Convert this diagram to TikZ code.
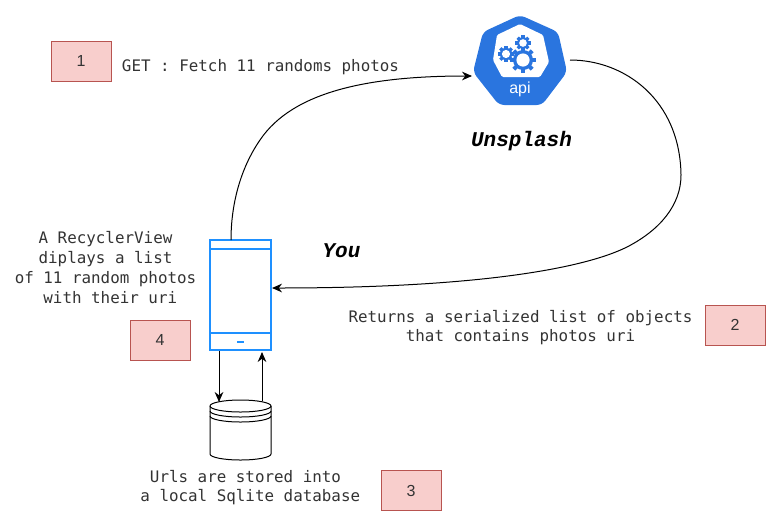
\documentclass[tikz,border=0pt]{standalone}
\usepackage{fontspec}
\setmainfont{Liberation Sans}
\setmonofont{DejaVu Sans Mono}
\newfontfamily\namefont{Liberation Mono}
\usetikzlibrary{arrows.meta}

\definecolor{boxfill}{HTML}{F8CECC}
\definecolor{boxline}{HTML}{B85450}
\definecolor{phoneblue}{HTML}{1E90FF}
\definecolor{apiblue}{HTML}{2A75DF}
\definecolor{inktext}{HTML}{333333}

\tikzset{
  numbox/.style={rectangle,draw=boxline,fill=boxfill,line width=0.75pt,minimum width=45pt,minimum height=30pt,inner sep=0pt,text=inktext,font=\fontsize{12}{14}\selectfont},
  monotext/.style={align=center,inner sep=0pt,text=inktext,font=\ttfamily\fontsize{11.9}{14.8}\selectfont},
  nametext/.style={inner sep=0pt,text=black,font=\namefont\bfseries\itshape\fontsize{15.75}{18}\selectfont},
  flow/.style={line width=0.75pt,-{Stealth[length=7.5pt,width=6.5pt]}},
  phoneline/.style={draw=phoneblue,line width=1.5pt},
  dbline/.style={line width=0.75pt}
}

\newcommand{\gearicon}[4]{%
  \foreach \ang in {0,45,...,315} \draw[apiblue,line width=#4*0.75pt] (#1,#2) -- ++(\ang:#3*1.3);
  \fill[apiblue] (#1,#2) circle (#3);
  \fill[white] (#1,#2) circle (#3*0.66);
}

\begin{document}
\begin{tikzpicture}[x=0.75pt,y=-0.75pt]
\useasboundingbox (0,0) rectangle (766,511);

% api icon
\fill[apiblue,rounded corners=4pt] (520,15) -- (558,32) -- (567,72) -- (542,105) -- (499,105) -- (473,72) -- (483,32) -- cycle;
\fill[white,rounded corners=1pt] (520,24) -- (543,35) -- (549,62) -- (540,77) -- (502,77) -- (493,60) -- (497,35) -- cycle;
\gearicon{523}{43}{5.8}{3.2}
\gearicon{506}{54}{6.2}{3.2}
\gearicon{523}{60}{10}{4}
\node (apilabel) at (520,89.5) [inner sep=0pt,text=white,font=\fontsize{12}{14}\selectfont] {api};
\coordinate (apiin) at (472,76);
\coordinate (apiout) at (570,60);

% phone
\node (phone) at (240.5,295) [rectangle,phoneline,fill=white,minimum width=45.75pt,minimum height=82.5pt,inner sep=0pt] {};
\draw[phoneline] (210,249) -- (271,249);
\draw[phoneline] (210,333) -- (271,333);
\draw[phoneline] (237,342) -- (244,342);
\coordinate (phonetop) at (231,240);
\coordinate (phonein) at (272,288);
\coordinate (phonedown) at (219,351);
\coordinate (phoneup) at (262,352);

% database
\draw[dbline,fill=white] (210,406) arc[start angle=180,end angle=360,x radius=30.5,y radius=6] -- (271,454) arc[start angle=0,end angle=180,x radius=30.5,y radius=6] -- cycle;
\draw[dbline] (210,406) arc[start angle=180,end angle=0,x radius=30.5,y radius=6];
\draw[dbline] (210,411) arc[start angle=180,end angle=0,x radius=30.5,y radius=6];
\draw[dbline] (210,416) arc[start angle=180,end angle=0,x radius=30.5,y radius=6];
\coordinate (dbin) at (219,402);
\coordinate (dbout) at (262,401);

% boxes
\node (one) at (81,61) [numbox] {1};
\node (two) at (735,325) [numbox] {2};
\node (three) at (411,490.5) [numbox] {3};
\node (four) at (160,340) [numbox] {4};

% texts
\node (gettext) at (260.5,67.5) [monotext] {GET : Fetch 11 randoms photos};
\node (unsplash) at (521.5,141) [nametext] {Unsplash};
\node (you) at (341.5,251) [nametext] {You};
\node (listtext) at (105.5,267.5) [monotext] {A RecyclerView\\diplays a list\\of 11 random photos\\\hphantom{x}with their uri};
\node (returntext) at (520.5,327.5) [monotext] {Returns a serialized list of objects\\that contains photos uri};
\node (dbtext) at (245.5,487.5) [monotext] {Urls are stored into\\\hphantom{x}a local Sqlite database};

% connectors
\draw[flow] (phonetop) .. controls (231,205) and (240,169) .. (260,140) .. controls (293,91) and (370,76) .. (apiin);
\draw[flow] (apiout) .. controls (625,60) and (680,100) .. (681,175) .. controls (681,205) and (660,230) .. (627,247) .. controls (585,268) and (480,288) .. (phonein);
\draw[flow] (phonedown) -- (dbin);
\draw[flow] (dbout) -- (phoneup);
\end{tikzpicture}
\end{document}
